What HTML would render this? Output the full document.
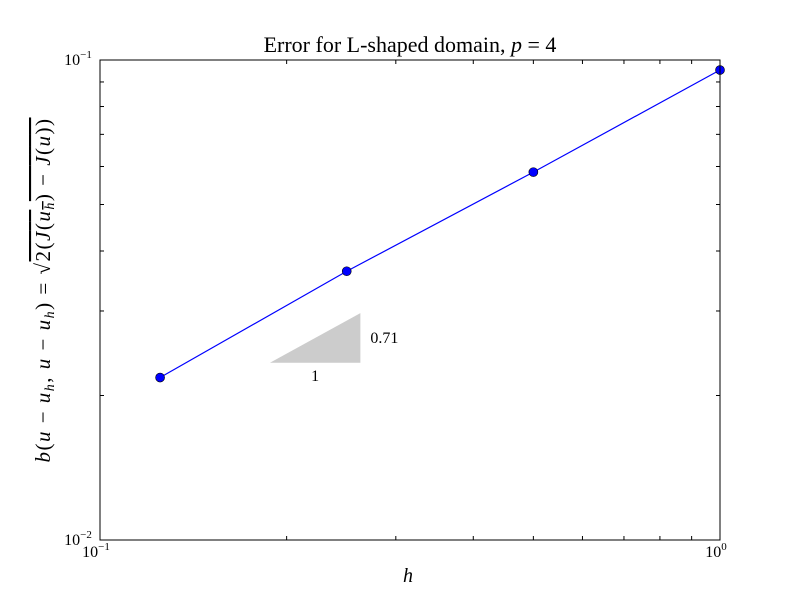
<!DOCTYPE html>
<html><head><meta charset="utf-8"><style>
body{margin:0;background:#fff}
svg{display:block;font-family:"Liberation Serif",serif}
</style></head><body>
<svg id="c" width="800" height="600">
<rect width="800" height="600" fill="#fff"/>
<text x="410" y="52" font-size="22" text-anchor="middle">Error for L-shaped domain, <tspan font-style="italic">p</tspan> = 4</text>
<g id="ticks"></g>
<g id="marks"></g>
<rect x="100" y="60" width="620" height="480" fill="none" stroke="#000" stroke-width="1"/>
<text x="408" y="582" font-size="20" font-style="italic" text-anchor="middle">h</text>
<text transform="translate(50,290) rotate(-90)" font-size="21" letter-spacing="1.5" text-anchor="middle"><tspan font-style="italic">b</tspan>(<tspan font-style="italic">u</tspan> − <tspan font-style="italic">u<tspan font-size="14" dy="4">h</tspan></tspan><tspan dy="-4">, </tspan><tspan font-style="italic">u</tspan> − <tspan font-style="italic">u<tspan font-size="14" dy="4">h</tspan></tspan><tspan dy="-4">) = √</tspan><tspan text-decoration="overline">2(<tspan font-style="italic">J</tspan>(<tspan font-style="italic">u<tspan font-size="14" dy="4">h</tspan></tspan><tspan dy="-4">) − </tspan><tspan font-style="italic">J</tspan>(<tspan font-style="italic">u</tspan>))</tspan></text>
</svg>
<script>
const hValues=[0.125,0.25,0.5,1.0];
const errValues=[0.0218,0.0363,0.0584,0.0953];
const xTickLabels=["10","10"];const xTickExp=["−1","0"];
const yTickLabels=["10","10"];const yTickExp=["−2","−1"];
const slopeLabel="0.71";const runLabel="1";
const triX=[0.188,0.263];const triYBase=0.0234;const triSlope=0.71;
const ns="http://www.w3.org/2000/svg";
const X0=100,X1=720,Y0=540,Y1=60;
function xs(v){return X0+(Math.log10(v)+1)*(X1-X0);}
function ys(v){return Y0-(Math.log10(v)+2)*(Y0-Y1);}
function mk(tag,at,parent){const e=document.createElementNS(ns,tag);for(const k in at)e.setAttribute(k,at[k]);parent.appendChild(e);return e;}
const T=document.getElementById('ticks'),M=document.getElementById('marks');
for(let i=1;i<=10;i++){
  const v=0.1*i,x=xs(v),L=(i==1||i==10)?8:4;
  let t=mk('line',{x1:x,x2:x,y1:Y0,y2:Y0-L,stroke:'#000'},T);
  
  
  t=mk('line',{x1:x,x2:x,y1:Y1,y2:Y1+L,stroke:'#000'},T);
  
  
  const vy=0.01*i,y=ys(vy);
  t=mk('line',{x1:X0,x2:X0+L,y1:y,y2:y,stroke:'#000'},T);
  
  
  t=mk('line',{x1:X1,x2:X1-L,y1:y,y2:y,stroke:'#000'},T);
  
  
}
[0.1,1].forEach((v,i)=>{
  const t=mk('text',{x:xs(v)-4,y:557,'font-size':16,'text-anchor':'middle'},T);
  t.innerHTML=xTickLabels[i]+'<tspan font-size="11" dy="-7">'+xTickExp[i]+'</tspan>';
  
  
});
[0.01,0.1].forEach((v,i)=>{
  const t=mk('text',{x:78,y:ys(v)+5,'font-size':16,'text-anchor':'middle'},T);
  t.innerHTML=yTickLabels[i]+'<tspan font-size="11" dy="-7">'+yTickExp[i]+'</tspan>';
  
  
});
const yTop=triYBase*Math.pow(triX[1]/triX[0],triSlope);
const tri=mk('polygon',{points:`${xs(triX[0])},${ys(triYBase)} ${xs(triX[1])},${ys(triYBase)} ${xs(triX[1])},${ys(yTop)}`,fill:'#cccccc'},M);


const l1=mk('text',{x:(xs(triX[0])+xs(triX[1]))/2,y:ys(triYBase)+18,'font-size':16,'text-anchor':'middle'},M);
l1.textContent=runLabel;


const l2=mk('text',{x:xs(triX[1])+10,y:(ys(triYBase)+ys(yTop))/2+5,'font-size':16},M);
l2.textContent=slopeLabel;


const line=mk('polyline',{points:hValues.map((h,i)=>xs(h)+','+ys(errValues[i])).join(' '),fill:'none',stroke:'#0000ff','stroke-width':1.2},M);


hValues.forEach((h,i)=>{
  const c=mk('circle',{cx:xs(h),cy:ys(errValues[i]),r:4.5,fill:'#0000ff',stroke:'#000','stroke-width':0.6},M);
  
  
});
</script>
</body></html>
